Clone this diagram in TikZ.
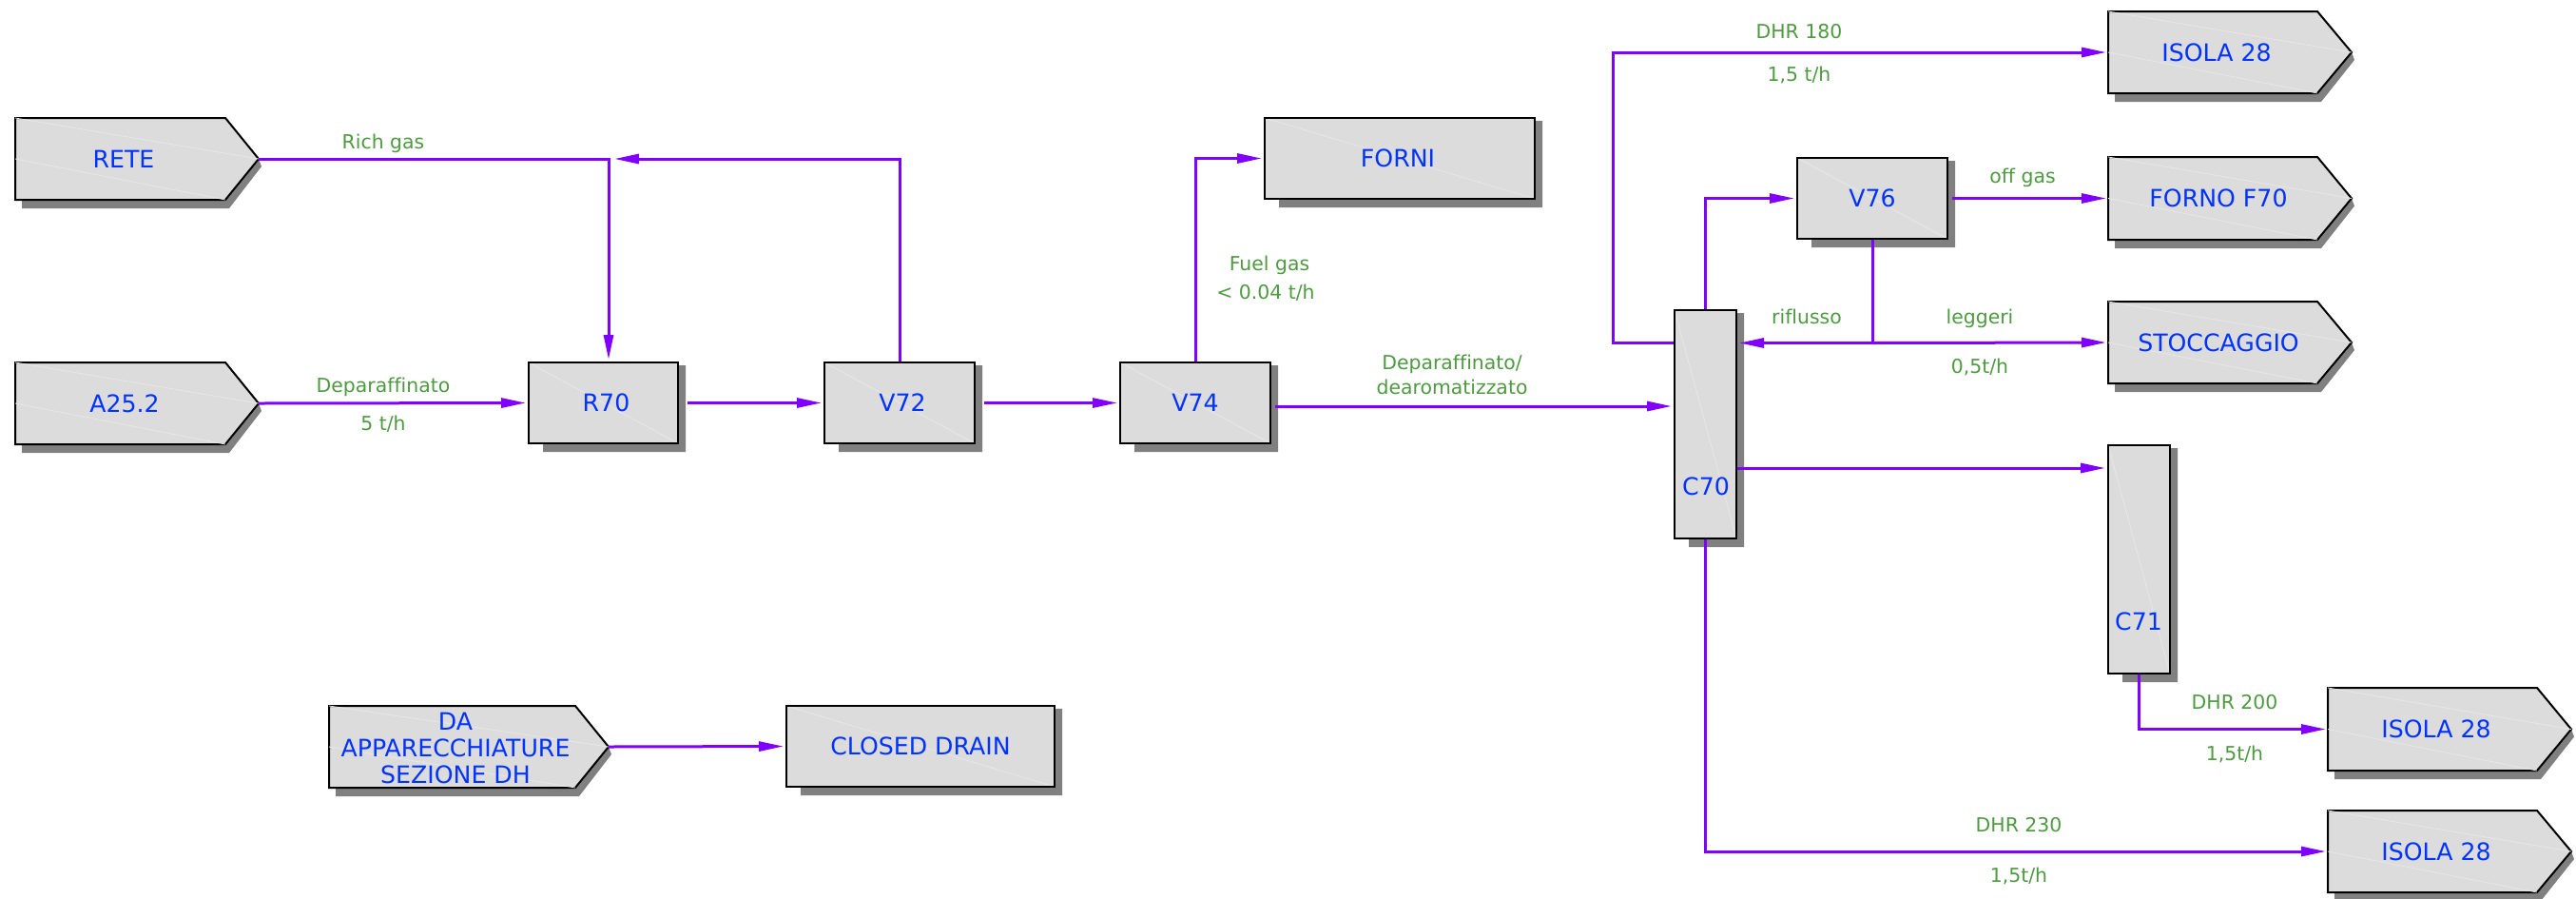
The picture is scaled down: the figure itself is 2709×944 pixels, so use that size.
\documentclass[tikz,border=0pt]{standalone}
\usepackage{fontspec}
\setmainfont{DejaVu Sans}[Ligatures=NoCommon]
\usetikzlibrary{arrows.meta,fit}
\definecolor{boxgray}{HTML}{DCDCDC}
\definecolor{shadowc}{HTML}{808080}
\definecolor{flowc}{HTML}{8000FF}
\definecolor{bluet}{HTML}{0033FF}
\definecolor{greent}{HTML}{4D9A40}
\definecolor{diagc}{HTML}{E8E8E8}

% rectangular box: name, L, R, T, B
\newcommand\rbox[5]{%
 \fill[shadowc] ({#2+15},#5) -- (#3,#5) -- (#3,{#4+3}) -- ({#3+8},{#4+3}) -- ({#3+8},{#5+9}) -- ({#2+15},{#5+9}) -- cycle;
 \fill[boxgray] (#2,#4) rectangle (#3,#5);
 \draw[diagc, line width=0.4pt] (#2,#4) -- (#3,#5);
 \node[boxframe, fit={(#2,#4) (#3,#5)}] (#1) {};
}
% pentagon (arrow shaped) box: name, L, Rr, Tip, T, B
\newcommand\pbox[6]{%
 \fill[shadowc] ({#2+7},#6) -- (#3,#6) -- (#4,{(#5+#6)/2}) -- ({#4+3},{(#5+#6)/2+8}) -- ({#3+4},{#6+9}) -- ({#2+7},{#6+9}) -- cycle;
 \filldraw[fill=boxgray, draw=black, line width=1pt, line join=miter] (#2,#5) -- (#3,#5) -- (#4,{(#5+#6)/2}) -- (#3,#6) -- (#2,#6) -- cycle;
 \draw[diagc, line width=0.4pt] (#2,#5) -- (#4,{(#5+#6)/2});
 \draw[diagc, line width=0.4pt] (#2,{(#5+#6)/2}) -- (#3,#6);
 \coordinate (#1-tip) at (#4,{(#5+#6)/2});
 \coordinate (#1-w) at (#2,{(#5+#6)/2});
}

\begin{document}
\begin{tikzpicture}[x=0.5pt,y=-0.5pt,
  btext/.style={text=bluet, font=\fontsize{12.6}{14}\selectfont, align=center, inner sep=0pt, text height=9.2pt, text depth=0pt},
  bmulti/.style={text=bluet, font=\fontsize{12.6}{14}\selectfont, align=center, inner sep=0pt},
  boxframe/.style={draw=black, line width=1pt, inner sep=0pt},
  lbl/.style={text=greent, font=\fontsize{10.2}{12}\selectfont, inner sep=0pt, text height=7.4pt, text depth=0pt},
  flow/.style={draw=flowc, line width=1.5pt},
  arr/.style={-{Triangle[length=13pt,width=5pt]}, shorten >=1pt}]
\useasboundingbox (0,0) rectangle (2709,944);

% pentagon boxes
\pbox{rete}{16}{237}{272}{124}{210}
\pbox{a25}{16}{237}{272}{381}{467}
\pbox{da}{346}{605}{640}{742}{828}
\pbox{isolaA}{2217}{2437}{2473}{12}{98}
\pbox{forno}{2217}{2437}{2473}{165}{252}
\pbox{stocc}{2217}{2437}{2473}{317}{403}
\pbox{isolaB}{2448}{2668}{2704}{723}{810}
\pbox{isolaC}{2448}{2668}{2704}{852}{938}
\node[btext] (rete) at (130,167) {RETE};
\node[btext] (a25) at (131,424) {A25.2};
\node[bmulti] (da) at (479,786) {DA\\APPARECCHIATURE\\SEZIONE DH};
\node[btext] (isolaA) at (2331,55) {ISOLA 28};
\node[btext] (forno) at (2333,208.5) {FORNO F70};
\node[btext] (stocc) at (2333,360) {STOCCAGGIO};
\node[btext] (isolaB) at (2562,766.5) {ISOLA 28};
\node[btext] (isolaC) at (2562,895) {ISOLA 28};

% rectangular boxes
\rbox{forni}{1330}{1614}{124}{209}
\rbox{r70}{556}{713}{381}{466}
\rbox{v72}{867}{1025}{381}{466}
\rbox{v74}{1178}{1336}{381}{466}
\rbox{c70}{1761}{1826}{326}{566}
\rbox{v76}{1890}{2048}{166}{251}
\rbox{c71}{2217}{2282}{468}{708}
\rbox{drain}{827}{1109}{742}{827}
\node[btext] (fornit) at ([xshift=-1pt]forni.center) {FORNI};
\node[btext] (r70t) at ([xshift=1.5pt]r70.center) {R70};
\node[btext] (v72t) at ([xshift=1.5pt]v72.center) {V72};
\node[btext] (v74t) at (v74.center) {V74};
\node[btext] (v76t) at (v76.center) {V76};
\node[btext] (draint) at (drain.center) {CLOSED DRAIN};
\node[btext] (c70t) at (1794,511) {C70};
\node[btext] (c71t) at (2249,653) {C71};

% helper coordinates
\coordinate (r70in) at ([xshift=2.75pt]r70.north);
\coordinate (mix) at (r70in |- rete-tip);
\coordinate (v74out) at ([xshift=2pt,yshift=-1.75pt]v74.east);
\coordinate (j) at (1969,360.5);
\coordinate (k) at ([yshift=-12.5pt]c71.north west);

% connectors
\draw[flow,arr] (rete-tip) -- (mix) -- (r70in);
\draw[flow,arr] (v72.north) |- ([xshift=2pt]mix);
\draw[flow,arr] (a25-tip) -- (r70.west);
\draw[flow,arr] ([xshift=4.5pt]r70.east) -- (v72.west);
\draw[flow,arr] ([xshift=4.5pt]v72.east) -- (v74.west);
\draw[flow,arr] (v74.north) |- (forni.west);
\draw[flow,arr] (v74out) -- (v74out -| c70.west);
\draw[flow,arr] (c70.west |- j) -- ++(-64,0) |- (isolaA-w);
\draw[flow,arr] (c70.north) |- (v76.west);
\draw[flow,arr] ([xshift=2pt]v76.east) -- (forno-w);
\draw[flow] (v76.south) -- (j);
\draw[flow,arr] (j) -- (c70.east |- j);
\draw[flow,arr] (j) -- (stocc-w);
\draw[flow,arr] (c70.east |- k) -- (k);
\draw[flow,arr] (c71.south) |- (isolaB-w);
\draw[flow,arr] (c70.south) |- (isolaC-w);
\draw[flow,arr] (da-tip) -- (drain.west);

% labels
\node[lbl] (l1) at (403,149) {Rich gas};
\node[lbl] (l2) at (403,405) {Deparaffinato};
\node[lbl] (l3) at (403,445) {5 t/h};
\node[lbl] (l4) at (1335,277) {Fuel gas};
\node[lbl] (l5) at (1331,307) {< 0.04 t/h};
\node[lbl] (l6) at (1527,381) {Deparaffinato/};
\node[lbl] (l7) at (1527,407) {dearomatizzato};
\node[lbl] (l8) at (1892,33) {DHR 180};
\node[lbl] (l9) at (1892,78) {1,5 t/h};
\node[lbl] (l10) at (2127,185) {off gas};
\node[lbl] (l11) at (1900,333) {riflusso};
\node[lbl] (l12) at (2082,333) {leggeri};
\node[lbl] (l13) at (2082,385) {0,5t/h};
\node[lbl] (l14) at (2350,738) {DHR 200};
\node[lbl] (l15) at (2350,792) {1,5t/h};
\node[lbl] (l16) at (2123,867) {DHR 230};
\node[lbl] (l17) at (2123,920) {1,5t/h};
\end{tikzpicture}
\end{document}
